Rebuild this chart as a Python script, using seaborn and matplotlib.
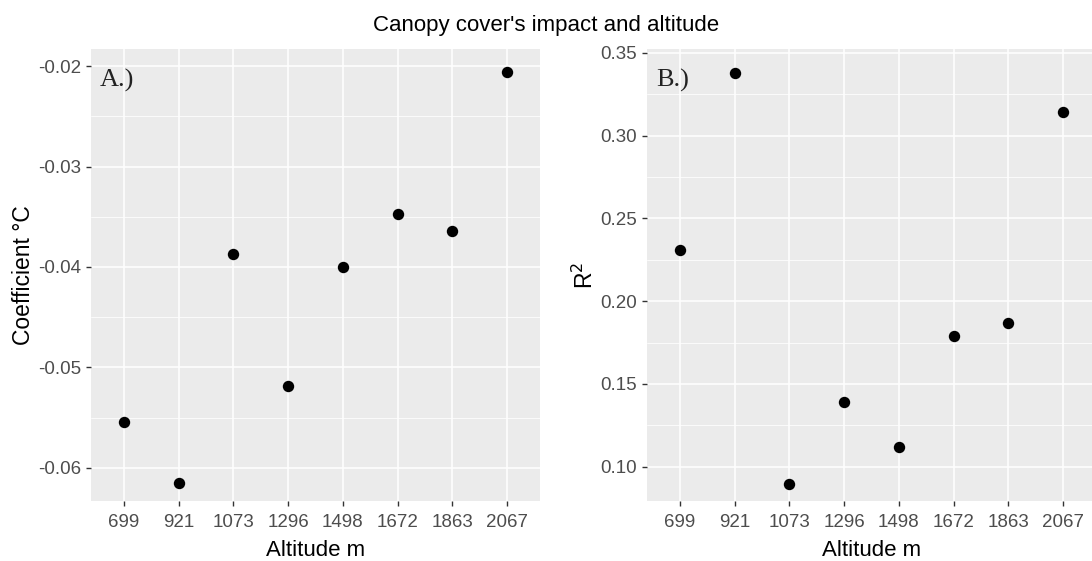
import matplotlib
matplotlib.use("Agg")
import matplotlib.pyplot as plt
from matplotlib.ticker import MultipleLocator
import seaborn as sns
import pandas as pd

# Sites ordered by altitude (m)
altitudes = ["699", "921", "1073", "1296", "1498", "1672", "1863", "2067"]
# Canopy cover coefficient (°C) per site
coefficients = [-0.0554, -0.0615, -0.0387, -0.0519, -0.0400, -0.0347, -0.0364, -0.0206]
# R² of the canopy cover model per site
r_squared = [0.231, 0.338, 0.0897, 0.139, 0.112, 0.179, 0.187, 0.314]

df = pd.DataFrame({"alt": altitudes, "coef": coefficients, "r2": r_squared})

sns.set_theme(style="darkgrid")
plt.rcParams["font.family"] = ["Liberation Sans", "DejaVu Sans"]

W, H = 1092, 561
fig = plt.figure(figsize=(W / 100, H / 100), dpi=100)
fig.patch.set_facecolor("white")


def px_axes(x0, x1, y0, y1):
    return fig.add_axes([x0 / W, 1 - y1 / H, (x1 - x0) / W, (y1 - y0) / H])


ax_a = px_axes(91, 540, 49, 501)
ax_b = px_axes(647, 1096, 49, 501)


def style_panel(ax, ylim, major, ylabel, tag, fmt):
    ax.set_facecolor("#EBEBEB")
    ax.set_xlim(-0.6, len(altitudes) - 0.4)
    ax.set_ylim(*ylim)
    ax.yaxis.set_major_locator(MultipleLocator(major))
    ax.yaxis.set_minor_locator(MultipleLocator(major / 2))
    ax.set_yticklabels([fmt(v) for v in ax.get_yticks()])
    ax.set_ylim(*ylim)
    ax.grid(True, which="major", color="white", linewidth=1.1)
    ax.yaxis.grid(True, which="minor", color="white", linewidth=0.55)
    ax.set_axisbelow(True)
    for s in ax.spines.values():
        s.set_visible(False)
    ax.tick_params(axis="both", which="major", direction="out", length=3.6,
                   width=1.0, color="#333333", labelcolor="#4D4D4D",
                   labelsize=13.5, bottom=True, left=True)
    ax.tick_params(axis="x", which="major", pad=5.5)
    ax.tick_params(axis="y", which="major", pad=3.5)
    ax.tick_params(axis="y", which="minor", length=0, left=False)
    ax.set_xlabel("Altitude m", fontsize=16, color="black", labelpad=6.5)
    ax.set_ylabel(ylabel, fontsize=16.5, color="black", labelpad=2)
    ax.text(0.02, 0.955, tag, transform=ax.transAxes, ha="left", va="top",
            fontsize=19, family="Liberation Serif", color="#222222")


sns.stripplot(data=df, x="alt", y="coef", order=altitudes, jitter=False,
              color="black", size=8.2, ax=ax_a, zorder=3)
sns.stripplot(data=df, x="alt", y="r2", order=altitudes, jitter=False,
              color="black", size=8.2, ax=ax_b, zorder=3)

style_panel(ax_a, (-0.0633, -0.0183), 0.01, "Coefficient °C", "A.)",
            lambda v: f"{v:.2f}")
style_panel(ax_b, (0.0793, 0.3523), 0.05, "R$^2$", "B.)",
            lambda v: f"{v:.2f}")

fig.text(546 / W, 1 - 26 / H, "Canopy cover's impact and altitude",
         ha="center", va="center", fontsize=16, color="black")

fig.savefig("out.png", dpi=100, facecolor="white")
